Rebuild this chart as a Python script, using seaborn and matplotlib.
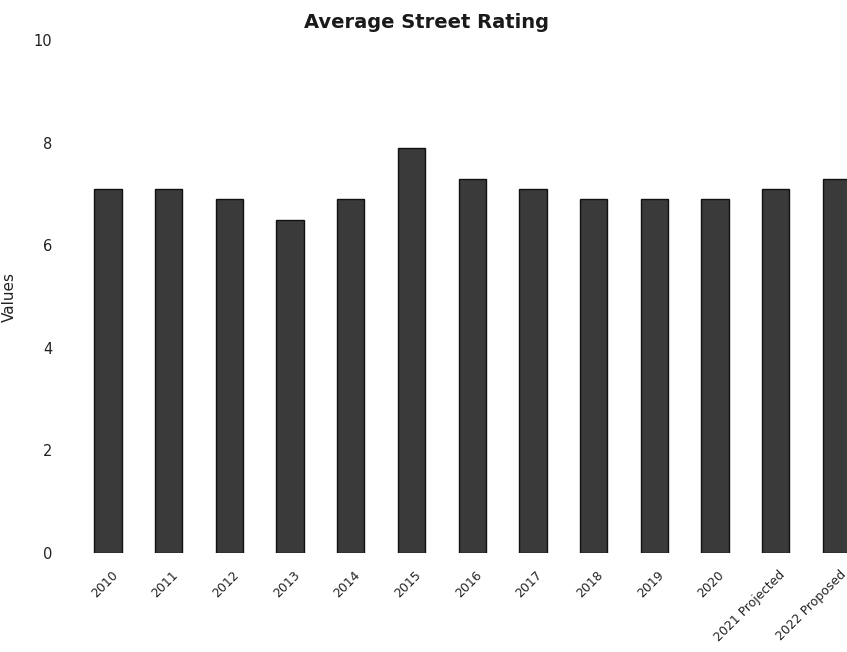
import matplotlib
matplotlib.use("Agg")
import matplotlib.pyplot as plt
import matplotlib.transforms as mtransforms
import seaborn as sns
import pandas as pd

categories = ["2010", "2011", "2012", "2013", "2014", "2015", "2016", "2017",
              "2018", "2019", "2020", "2021 Projected", "2022 Proposed"]
values = [7.1, 7.1, 6.9, 6.5, 6.9, 7.9, 7.3, 7.1, 6.9, 6.9, 6.9, 7.1, 7.3]
y_ticks = [0, 2, 4, 6, 8, 10]

sns.set_theme(style="white")
plt.rcParams['font.family'] = ['DejaVu Sans']

df = pd.DataFrame({"Year": categories, "Values": values})

W, H = 847, 652
fig = plt.figure(figsize=(W / 100, H / 100), dpi=100)
left_px, right_px = 71.6, 847.3
bottom_px, top_px = 553, 40
ax = fig.add_axes([left_px / W, 1 - bottom_px / H,
                   (right_px - left_px) / W, (bottom_px - top_px) / H])

sns.barplot(data=df, x="Year", y="Values", ax=ax, color="#3a3a3a",
            width=0.45, edgecolor="#111111", linewidth=1.0, saturation=1)

ax.set_xlim(-0.6, 12.18)
ax.set_ylim(0, 10)
ax.set_yticks(y_ticks)
ax.set_yticklabels([str(t) for t in y_ticks], fontsize=10.5, color="#222222")
ax.tick_params(axis="y", length=0, pad=14)
ax.tick_params(axis="x", length=0, pad=11)
for s in ax.spines.values():
    s.set_visible(False)
ax.grid(False)

ax.set_xlabel("")
ax.set_ylabel("Values", fontsize=11, color="#222222")
ax.yaxis.set_label_coords((17 - left_px) / (right_px - left_px), 0.5)

offset = mtransforms.ScaledTranslation(3 / 100, 0, fig.dpi_scale_trans)
for lab in ax.get_xticklabels():
    lab.set_rotation(45)
    lab.set_ha("right")
    lab.set_rotation_mode("anchor")
    lab.set_fontsize(9)
    lab.set_color("#222222")
    lab.set_transform(lab.get_transform() + offset)

fig.text(0.503, 1 - 22 / H, "Average Street Rating", ha="center", va="center",
         fontsize=14, fontweight="bold", color="#1a1a1a")

fig.savefig("out.png", dpi=100, facecolor="white")
